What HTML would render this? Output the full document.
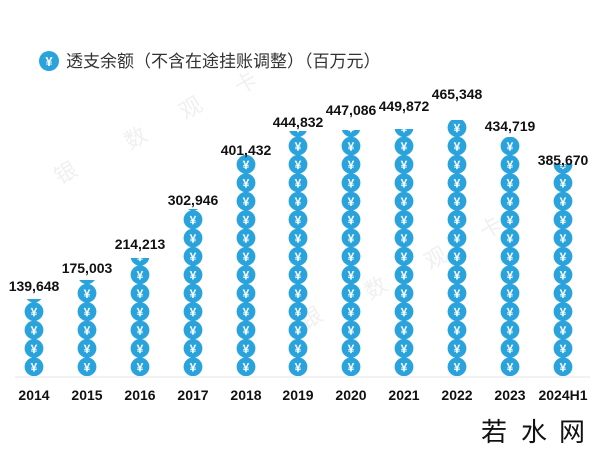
<!DOCTYPE html>
<html><head><meta charset="utf-8"><style>
html,body{margin:0;padding:0;background:#fff;}
svg{display:block;}
</style></head><body>
<svg width="600" height="450" viewBox="0 0 600 450" xmlns="http://www.w3.org/2000/svg" font-family="'Liberation Sans','Noto Sans CJK SC',sans-serif">
<defs>
<pattern id="coin" patternUnits="userSpaceOnUse" x="-10" y="376" width="20" height="18.4">
<circle cx="10" cy="9.2" r="9.4" fill="#2aa3dd"/>
<text x="10" y="14" font-size="12" font-weight="bold" fill="#fff" text-anchor="middle">¥</text>
</pattern>
</defs>
<circle cx="49" cy="61" r="10" fill="#2aa3dd"/>
<text x="49" y="66" font-size="13" font-weight="bold" fill="#fff" text-anchor="middle">¥</text>
<text x="66" y="67" font-size="17" fill="#333">透支余额（不含在途挂账调整）（百万元）</text>
<g fill="#f0f0f0" font-size="22" font-family="'Noto Sans CJK SC',sans-serif">
<text x="60" y="185" transform="rotate(-30 60 185)">银</text>
<text x="130" y="150" transform="rotate(-30 130 150)">数</text>
<text x="185" y="120" transform="rotate(-30 185 120)">观</text>
<text x="240" y="95" transform="rotate(-30 240 95)">卡</text>
<text x="305" y="330" transform="rotate(-30 305 330)">银</text>
<text x="370" y="300" transform="rotate(-30 370 300)">数</text>
<text x="430" y="270" transform="rotate(-30 430 270)">观</text>
<text x="485" y="240" transform="rotate(-30 485 240)">卡</text>
</g>
<line x1="15" y1="377" x2="590" y2="377" stroke="#e4e4e4" stroke-width="1"/>
<g font-size="14" font-weight="bold" fill="#111" text-anchor="middle">
<g transform="translate(34,0)"><rect x="-10" y="299" width="20" height="77" fill="url(#coin)"/><text y="291">139,648</text><text y="400">2014</text></g>
<g transform="translate(87,0)"><rect x="-10" y="280" width="20" height="96" fill="url(#coin)"/><text y="273">175,003</text><text y="400">2015</text></g>
<g transform="translate(140,0)"><rect x="-10" y="258" width="20" height="118" fill="url(#coin)"/><text y="249">214,213</text><text y="400">2016</text></g>
<g transform="translate(193,0)"><rect x="-10" y="209" width="20" height="167" fill="url(#coin)"/><text y="205">302,946</text><text y="400">2017</text></g>
<g transform="translate(246,0)"><rect x="-10" y="155" width="20" height="221" fill="url(#coin)"/><text y="155">401,432</text><text y="400">2018</text></g>
<g transform="translate(298,0)"><rect x="-10" y="131" width="20" height="245" fill="url(#coin)"/><text y="127">444,832</text><text y="400">2019</text></g>
<g transform="translate(351,0)"><rect x="-10" y="130" width="20" height="246" fill="url(#coin)"/><text y="115">447,086</text><text y="400">2020</text></g>
<g transform="translate(404,0)"><rect x="-10" y="129" width="20" height="247" fill="url(#coin)"/><text y="111">449,872</text><text y="400">2021</text></g>
<g transform="translate(457,0)"><rect x="-10" y="120" width="20" height="256" fill="url(#coin)"/><text y="99">465,348</text><text y="400">2022</text></g>
<g transform="translate(510,0)"><rect x="-10" y="137" width="20" height="239" fill="url(#coin)"/><text y="131">434,719</text><text y="400">2023</text></g>
<g transform="translate(563,0)"><rect x="-10" y="164" width="20" height="212" fill="url(#coin)"/><text y="165">385,670</text><text y="400">2024H1</text></g>
</g>
<g font-family="'Noto Sans CJK SC',sans-serif" font-size="26" fill="#111">
<text x="481" y="441">若</text><text x="521" y="441">水</text><text x="559" y="441">网</text>
</g>
</svg>
</body></html>
